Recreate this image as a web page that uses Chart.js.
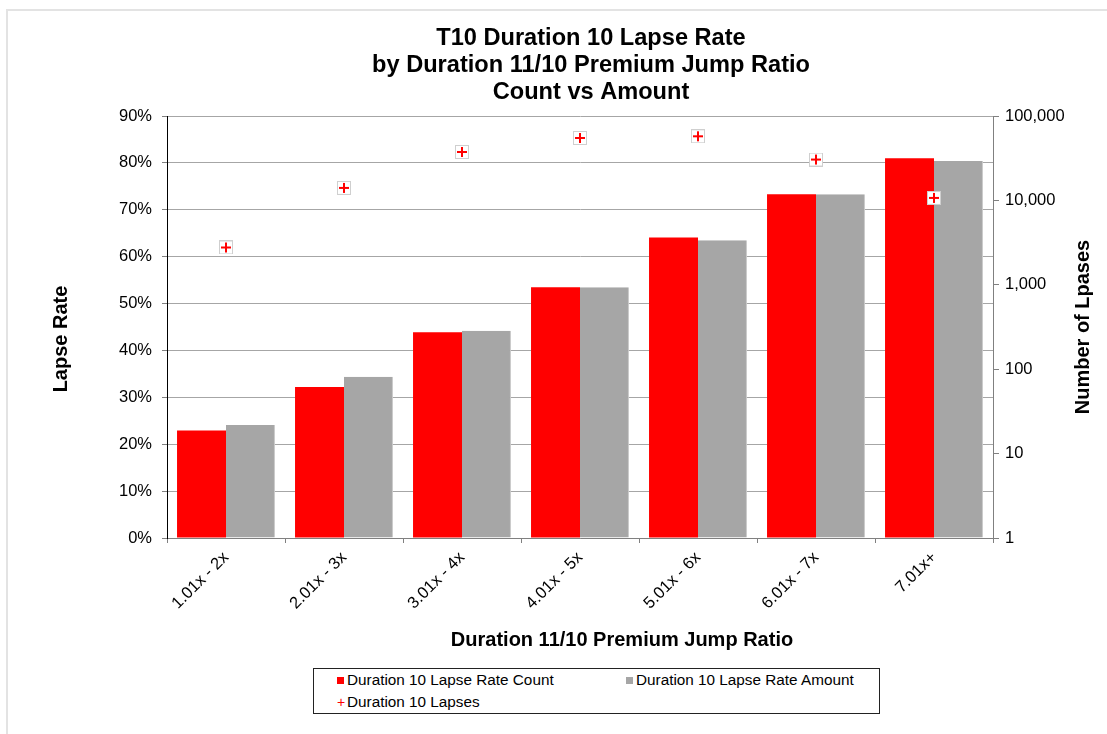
<!DOCTYPE html>
<html>
<head>
<meta charset="utf-8">
<script src="https://cdn.jsdelivr.net/npm/chart.js@4.4.1/dist/chart.umd.min.js"></script>
<style>
  html, body { margin: 0; padding: 0; background: #fff; }
  #wrap { position: relative; width: 1107px; height: 734px; overflow: hidden; font-family: "Liberation Sans", Arial, sans-serif; }
  #frame { position: absolute; left: 6px; top: 9px; width: 1110px; height: 740px; border: 2px solid #e3e3e3; box-sizing: border-box; }
  #chart { position: absolute; left: 0; top: 0; }
  #legend { position: absolute; left: 313px; top: 668px; width: 567px; height: 46px; border: 1px solid #222; box-sizing: border-box; background: #fff; font-size: 15.3px; color: #000; }
  .item { position: absolute; white-space: nowrap; line-height: 18px; }
  .sw { display: inline-block; width: 7px; height: 7px; margin-right: 3px; vertical-align: 1px; }
  .plus { display: inline-block; width: 9px; color: #f00; margin-right: 1px; font-size: 14px; }
</style>
</head>
<body>
<div id="wrap">
  <div id="frame"></div>
  <canvas id="chart" width="1107" height="734"></canvas>
  <div id="legend">
    <div class="item" style="left:23px;top:2px"><span class="sw" style="background:#ff0000"></span>Duration 10 Lapse Rate Count</div>
    <div class="item" style="left:312px;top:2px"><span class="sw" style="background:#a6a6a6"></span>Duration 10 Lapse Rate Amount</div>
    <div class="item" style="left:23px;top:24px"><span class="plus">+</span>Duration 10 Lapses</div>
  </div>
</div>
<script>
// Data
const categories = ['1.01x - 2x', '2.01x - 3x', '3.01x - 4x', '4.01x - 5x', '5.01x - 6x', '6.01x - 7x', '7.01x+'];
const rateCount = [22.9, 32.2, 43.9, 53.5, 64.1, 73.3, 81.0];
const rateAmount = [24.1, 34.4, 44.2, 53.5, 63.5, 73.3, 80.4];
const lapses = [2770, 14060, 37500, 54900, 57500, 30500, 10700];
const rateTicks = [0, 10, 20, 30, 40, 50, 60, 70, 80, 90];
const lapseTicks = [1, 10, 100, 1000, 10000, 100000];

const titleLines = ['T10 Duration 10 Lapse Rate', 'by Duration 11/10 Premium Jump Ratio', 'Count vs Amount'];
const FONT = '"Liberation Sans", Arial, sans-serif';

// marker: red plus on a small white box
const mark = document.createElement('canvas');
mark.width = 14; mark.height = 14;
const m = mark.getContext('2d');
m.fillStyle = '#fff';
m.fillRect(0, 0, 14, 14);
m.strokeStyle = '#cfcfcf';
m.lineWidth = 1;
m.strokeRect(0.5, 0.5, 13, 13);
m.fillStyle = '#ff0000';
m.fillRect(2, 6, 10, 2);
m.fillRect(6, 2, 2, 10);

// chart title and axis titles (right one reads bottom-up like the left one)
const titles = {
  id: 'titles',
  afterDraw(chart) {
    const { ctx, chartArea } = chart;
    const midY = (chartArea.top + chartArea.bottom) / 2;
    ctx.save();
    ctx.fillStyle = '#000';
    ctx.textAlign = 'center';
    ctx.textBaseline = 'alphabetic';
    ctx.font = 'bold 23.6px ' + FONT;
    titleLines.forEach((t, i) => ctx.fillText(t, 591, 44.5 + i * 27.3));

    ctx.font = 'bold 20px ' + FONT;
    ctx.textBaseline = 'middle';
    ctx.fillText('Duration 11/10 Premium Jump Ratio', 622, 640);
    ctx.save();
    ctx.translate(61, midY + 12);
    ctx.rotate(-Math.PI / 2);
    ctx.fillText('Lapse Rate', 0, 0);
    ctx.restore();
    ctx.translate(1083, midY);
    ctx.rotate(-Math.PI / 2);
    ctx.fillText('Number of Lpases', 0, 0);
    ctx.restore();
  }
};

new Chart(document.getElementById('chart'), {
  type: 'bar',
  data: {
    labels: categories,
    datasets: [
      {
        type: 'line',
        label: 'Duration 10 Lapses',
        data: lapses,
        yAxisID: 'y2',
        showLine: false,
        pointStyle: mark,
        pointRadius: 7,
        order: 0
      },
      {
        label: 'Duration 10 Lapse Rate Count',
        data: rateCount,
        yAxisID: 'y',
        backgroundColor: '#ff0000',
        categoryPercentage: 0.83,
        barPercentage: 1.0,
        order: 1
      },
      {
        label: 'Duration 10 Lapse Rate Amount',
        data: rateAmount,
        yAxisID: 'y',
        backgroundColor: '#a6a6a6',
        borderColor: '#c8c8c8',
        borderWidth: { right: 1 },
        categoryPercentage: 0.83,
        barPercentage: 1.0,
        order: 2
      }
    ]
  },
  options: {
    responsive: false,
    animation: false,
    devicePixelRatio: 1,
    layout: { padding: { top: 116, left: 0, right: 0, bottom: 76 } },
    plugins: {
      legend: { display: false },
      tooltip: { enabled: false },
      title: { display: false }
    },
    scales: {
      x: {
        offset: true,
        grid: { drawOnChartArea: false, offset: true, tickLength: 5, color: '#808080' },
        border: { color: '#808080' },
        ticks: {
          color: '#000',
          font: { family: FONT, size: 16.5 },
          minRotation: 45,
          maxRotation: 45,
          padding: 5
        },
        afterFit(scale) { scale.height = 120; }
      },
      y: {
        position: 'left',
        min: 0,
        max: 90,
        afterBuildTicks(scale) { scale.ticks = rateTicks.map(v => ({ value: v })); },
        grid: { color: '#a6a6a6', tickLength: 5, tickColor: '#808080' },
        border: { color: '#000' },
        ticks: {
          color: '#000',
          font: { family: FONT, size: 16.5 },
          padding: 10,
          callback: v => v + '%'
        },
        afterFit(scale) { scale.width = 167; }
      },
      y2: {
        type: 'logarithmic',
        position: 'right',
        min: 1,
        max: 100000,
        afterBuildTicks(scale) { scale.ticks = lapseTicks.map(v => ({ value: v, major: true })); },
        grid: { drawOnChartArea: false, tickLength: 6, color: '#808080' },
        border: { color: '#808080' },
        ticks: {
          color: '#000',
          font: { family: FONT, size: 16.5 },
          padding: 6,
          callback: v => Number(v).toLocaleString('en-US')
        },
        afterFit(scale) { scale.width = 114; }
      }
    }
  },
  plugins: [titles]
});
</script>
</body>
</html>
